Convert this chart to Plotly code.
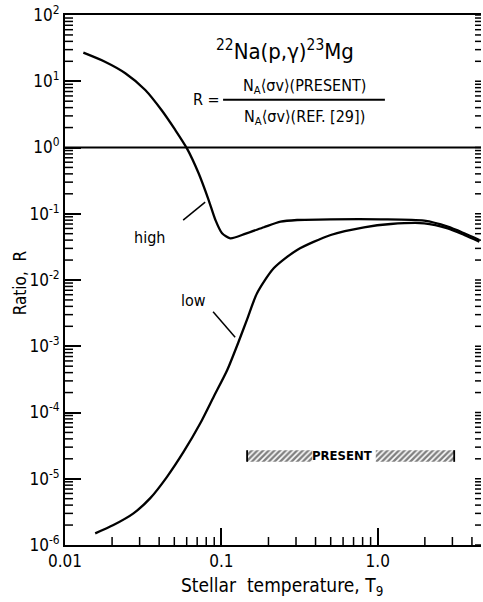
import numpy as np
import plotly.graph_objects as go

# ---- data ----
high_T = [0.0131, 0.0180, 0.0243, 0.0326, 0.0414, 0.0507, 0.0602, 0.0715, 0.0829,
          0.0916, 0.101, 0.114, 0.143, 0.187, 0.239, 0.305, 0.500, 1.045, 1.98,
          2.80, 3.57, 4.46]
high_R = [27.0, 19.7, 13.2, 7.38, 3.68, 1.84, 0.97, 0.408, 0.161,
          0.0805, 0.0507, 0.0426, 0.0500, 0.0625, 0.0759, 0.0805, 0.0824, 0.0824, 0.0785,
          0.0638, 0.0507, 0.0402]

low_T = [0.0156, 0.0204, 0.0274, 0.0351, 0.0449, 0.0574, 0.0733, 0.0893, 0.109,
         0.129, 0.146, 0.169, 0.216, 0.305, 0.500, 0.817, 1.21, 1.98, 2.80, 3.57, 4.46]
low_R = [1.50e-6, 2.0e-6, 3.0e-6, 5.1e-6, 1.07e-5, 2.56e-5, 6.87e-5, 1.73e-4, 4.38e-4,
         1.18e-3, 2.55e-3, 6.30e-3, 0.0150, 0.0284, 0.0478, 0.0625, 0.070, 0.0718,
         0.0603, 0.0478, 0.0378]

ref_T = [0.01, 4.57]
ref_R = [1.0, 1.0]

present_left = [0.146, 0.381]
present_right = [0.971, 3.08]
present_R = [1.8e-5, 2.7e-5]

x_tickvals = [0.01, 0.1, 1.0]
x_ticktext = ["0.01", "0.1", "1.0"]
y_tickvals = [1e2, 1e1, 1e0, 1e-1, 1e-2, 1e-3, 1e-4, 1e-5, 1e-6]
y_ticktext = ["10<sup>2</sup>", "10<sup>1</sup>", "10<sup>0</sup>", "10<sup>-1</sup>",
              "10<sup>-2</sup>", "10<sup>-3</sup>", "10<sup>-4</sup>", "10<sup>-5</sup>",
              "10<sup>-6</sup>"]

FONT = "DejaVu Sans Condensed, DejaVu Sans, sans-serif"
X_RANGE = [-2, 0.66]
Y_RANGE = [-6, 2]
PLOT_W, PLOT_H = 483 - 65 - 2, 602 - 15 - 57

x_minor = [m * 10.0 ** e for e in (-2, -1, 0) for m in range(2, 10)]
x_minor = [v for v in x_minor if np.log10(v) < X_RANGE[1]]
y_minor = [m * 10.0 ** e for e in range(-6, 2) for m in range(2, 10)]

fig = go.Figure()

fig.add_trace(go.Scatter(x=ref_T, y=ref_R, mode="lines",
                         line=dict(color="black", width=1.8), showlegend=False, hoverinfo="skip"))
fig.add_trace(go.Scatter(x=high_T, y=high_R, mode="lines", line_shape="spline",
                         line=dict(color="black", width=2.3, smoothing=0.7),
                         showlegend=False, name="high"))
fig.add_trace(go.Scatter(x=low_T, y=low_R, mode="lines", line_shape="spline",
                         line=dict(color="black", width=2.3, smoothing=0.7),
                         showlegend=False, name="low"))

def rect(xs, ys):
    return [xs[0], xs[1], xs[1], xs[0], xs[0]], [ys[0], ys[0], ys[1], ys[1], ys[0]]

lx, ly = rect(present_left, present_R)
rx, ry = rect(present_right, present_R)
fig.add_trace(go.Scatter(x=lx + [None] + rx, y=ly + [None] + ry, mode="lines",
                         fill="toself", fillcolor="white",
                         fillpattern=dict(shape="/", fgcolor="black", bgcolor="white",
                                          size=4, solidity=0.6),
                         line=dict(width=0, color="rgba(0,0,0,0)"),
                         showlegend=False, hoverinfo="skip"))
fig.add_trace(go.Scatter(x=[present_left[0], present_left[0], None, present_right[1], present_right[1]],
                         y=[present_R[0], present_R[1], None, present_R[0], present_R[1]],
                         mode="lines", line=dict(color="black", width=1.8),
                         showlegend=False, hoverinfo="skip"))

fig.update_layout(
    width=483, height=602,
    margin=dict(l=65, r=2, t=15, b=57),
    paper_bgcolor="white", plot_bgcolor="rgba(0,0,0,0)",
    font=dict(family=FONT, size=16, color="black"),
    xaxis=dict(type="log", range=X_RANGE, showgrid=False, zeroline=False,
               showline=True, linecolor="black", linewidth=2, mirror=True,
               tickmode="array", tickvals=x_tickvals, ticktext=x_ticktext,
               ticks="inside", ticklen=17, tickwidth=2, tickcolor="black",
               tickfont=dict(size=17), layer="above traces"),
    yaxis=dict(type="log", range=Y_RANGE, showgrid=False, zeroline=False,
               showline=True, linecolor="black", linewidth=2,
               tickmode="array", tickvals=y_tickvals, ticktext=y_ticktext,
               ticks="inside", ticklen=16, tickwidth=2, tickcolor="black",
               tickfont=dict(size=17), layer="above traces"),
)

# minor tick marks (positions follow the log axis ranges)
def xfrac(v):
    return (np.log10(v) - X_RANGE[0]) / (X_RANGE[1] - X_RANGE[0])

def yfrac(v):
    return (np.log10(v) - Y_RANGE[0]) / (Y_RANGE[1] - Y_RANGE[0])

tick_line = dict(color="black", width=1.5)
for v in x_minor:
    fx = float(xfrac(v))
    fig.add_shape(type="line", xref="paper", yref="paper", x0=fx, x1=fx,
                  y0=0, y1=8 / PLOT_H, line=tick_line)
for v in y_minor:
    fy = float(yfrac(v))
    fig.add_shape(type="line", xref="paper", yref="paper", x0=0, x1=8 / PLOT_W,
                  y0=fy, y1=fy, line=tick_line)
for v in sorted(y_minor + y_tickvals):
    fy = float(yfrac(v))
    fig.add_shape(type="line", xref="paper", yref="paper", x0=1 - 6 / PLOT_W, x1=1,
                  y0=fy, y1=fy, line=tick_line)

ann = [
    dict(text="<sup>22</sup>Na(p,γ)<sup>23</sup>Mg", x=0.529, y=0.934, size=22),
    dict(text="R =", x=0.339, y=0.840, size=16),
    dict(text="N<sub>A</sub>⟨σv⟩(PRESENT)", x=0.575, y=0.866, size=16),
    dict(text="N<sub>A</sub>⟨σv⟩(REF. [29])", x=0.575, y=0.806, size=16),
    dict(text="high", x=0.204, y=0.581, size=16),
    dict(text="low", x=0.310, y=0.462, size=16),
    dict(text="<b>PRESENT</b>", x=0.666, y=0.168, size=13),
    dict(text="Stellar  temperature, T<sub>9</sub>", x=0.522, y=-0.079, size=19),
]
for a in ann:
    fig.add_annotation(text=a["text"], x=a["x"], y=a["y"], xref="paper", yref="paper",
                       showarrow=False, xanchor="center", yanchor="middle",
                       font=dict(family=FONT, size=a["size"], color="black"))
fig.add_annotation(text="Ratio,  R", x=-0.108, y=0.494, xref="paper", yref="paper",
                   showarrow=False, textangle=-90, xanchor="center", yanchor="middle",
                   font=dict(family=FONT, size=17, color="black"))

fig.add_shape(type="line", xref="paper", yref="paper", x0=0.380, x1=0.769, y0=0.840, y1=0.840,
              line=dict(color="black", width=2))
fig.add_shape(type="line", xref="paper", yref="paper", x0=0.284, y0=0.613, x1=0.337, y1=0.647,
              line=dict(color="black", width=1.5))
fig.add_shape(type="line", xref="paper", yref="paper", x0=0.356, y0=0.440, x1=0.409, y1=0.392,
              line=dict(color="black", width=1.5))

fig.write_html("out.html")
